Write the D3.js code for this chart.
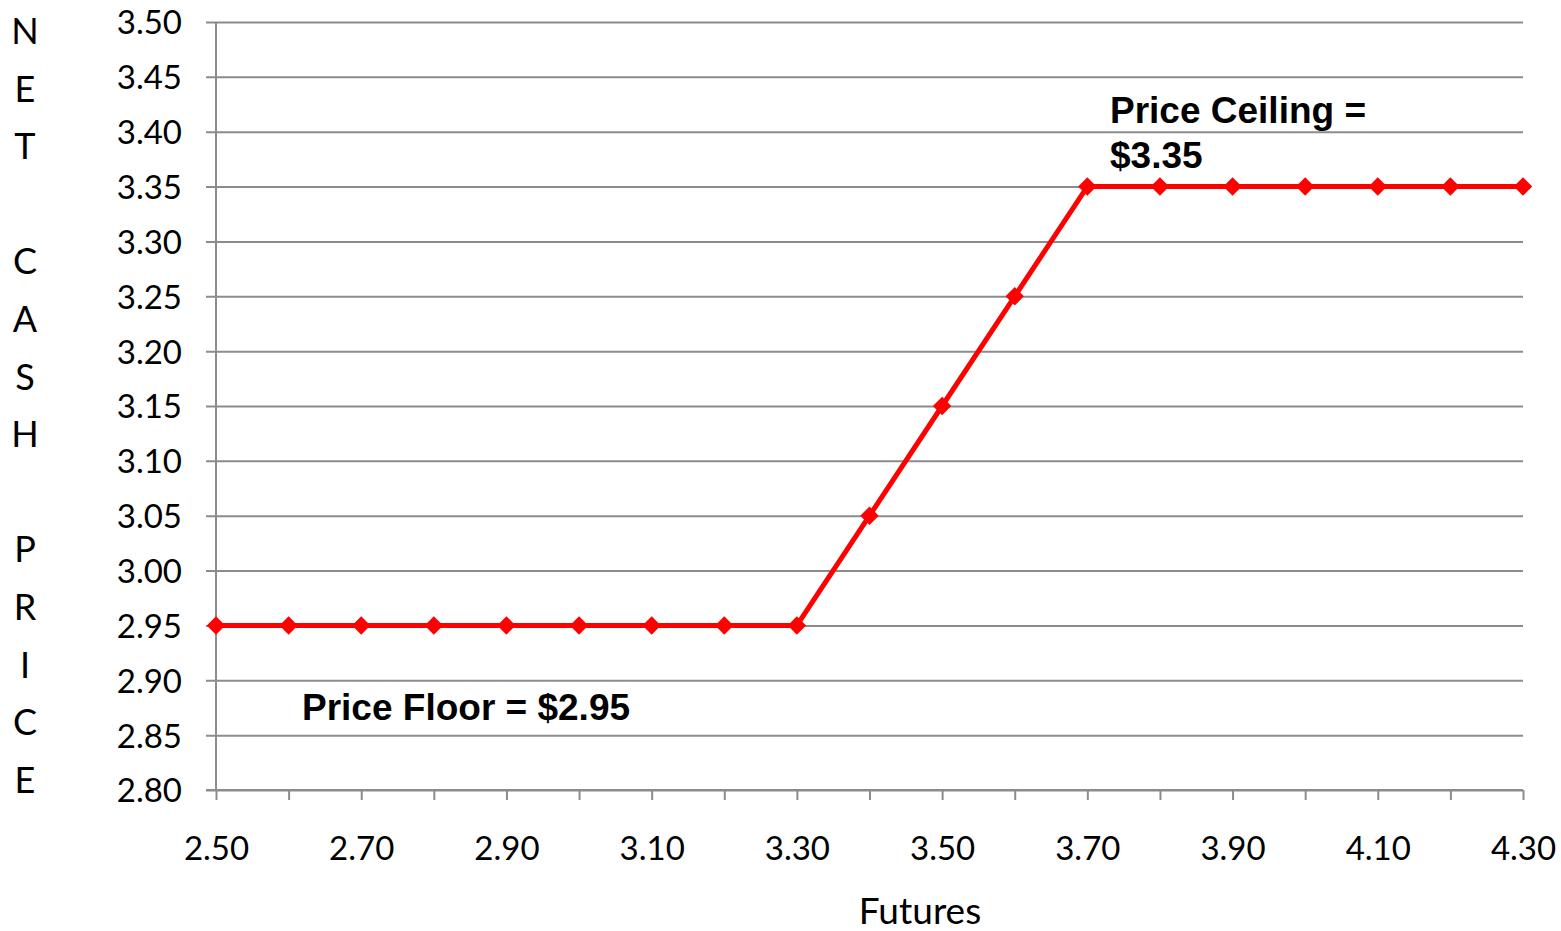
<!DOCTYPE html>
<html>
<head>
<meta charset="utf-8">
<script src="https://cdn.jsdelivr.net/npm/d3@7"></script>
<style>
  html, body { margin: 0; padding: 0; background: #fff; }
  svg { display: block; }
</style>
</head>
<body>
<script>
// futures prices (categories) and the net cash price for each
const futures = ["2.50","2.60","2.70","2.80","2.90","3.00","3.10","3.20","3.30",
                 "3.40","3.50","3.60","3.70","3.80","3.90","4.00","4.10","4.20","4.30"];
const netCash = [2.95,2.95,2.95,2.95,2.95,2.95,2.95,2.95,2.95,
                 3.05,3.15,3.25,3.35,3.35,3.35,3.35,3.35,3.35,3.35];
const yTicks = [2.80,2.85,2.90,2.95,3.00,3.05,3.10,3.15,3.20,3.25,3.30,3.35,3.40,3.45,3.50];
const yTitle = ["N","E","T","","C","A","S","H","","P","R","I","C","E"];

const width = 1561;
const height = 931;
const svg = d3.select("body")
  .append("svg")
  .attr("width", width)
  .attr("height", height);

const margin = {top: 22, right: 38, bottom: 141, left: 216};
const gridColor = "#8c8c8c";
const tickFont = "Lato, 'Open Sans', sans-serif";

const xScale = d3.scalePoint()
  .domain(futures)
  .range([margin.left, width - margin.right]);

const yScale = d3.scaleLinear()
  .domain([2.80, 3.50])
  .range([height - margin.bottom, margin.top]);

// horizontal gridlines + y axis
const yAxis = d3.axisLeft(yScale)
  .tickValues(yTicks)
  .tickFormat(d3.format(".2f"))
  .tickSize(-(width - margin.right - margin.left) - 10)
  .tickSizeOuter(0);

const gy = svg.append("g")
  .attr("transform", `translate(${margin.left},0)`)
  .call(yAxis);
gy.select(".domain").remove();
gy.selectAll(".tick line")
  .attr("x1", -10)
  .attr("x2", width - margin.right - margin.left)
  .attr("stroke", gridColor)
  .attr("stroke-width", 2);
gy.selectAll(".tick text")
  .attr("x", -34)
  .attr("dy", "0.36em")
  .attr("font-family", tickFont)
  .attr("font-size", 33)
  .attr("fill", "#000");

// vertical axis line
svg.append("line")
  .attr("x1", margin.left).attr("x2", margin.left)
  .attr("y1", margin.top).attr("y2", height - margin.bottom)
  .attr("stroke", gridColor)
  .attr("stroke-width", 2);

// x axis
const xAxis = d3.axisBottom(xScale)
  .tickSize(10)
  .tickSizeOuter(0)
  .tickFormat((d, i) => i % 2 === 0 ? d : "");

const gx = svg.append("g")
  .attr("transform", `translate(0,${height - margin.bottom})`)
  .call(xAxis);
gx.select(".domain")
  .attr("stroke", gridColor)
  .attr("stroke-width", 2)
  .attr("d", `M${margin.left - 10},0H${width - margin.right}`);
gx.selectAll(".tick line")
  .attr("stroke", gridColor)
  .attr("stroke-width", 2);
gx.selectAll(".tick text")
  .attr("y", 47)
  .attr("dy", "0.71em")
  .attr("font-family", tickFont)
  .attr("font-size", 33)
  .attr("fill", "#000");

// x title
svg.append("text")
  .attr("x", 920)
  .attr("y", 924)
  .attr("text-anchor", "middle")
  .attr("font-family", tickFont)
  .attr("font-size", 37)
  .text("Futures");

// stacked y title, one letter per line
svg.append("g")
  .selectAll("text")
  .data(yTitle)
  .join("text")
  .attr("x", 25)
  .attr("y", (d, i) => 44 + i * 57.6)
  .attr("text-anchor", "middle")
  .attr("font-family", tickFont)
  .attr("font-size", 36)
  .text(d => d);

// the red line
const line = d3.line()
  .x((d, i) => xScale(futures[i]))
  .y(d => yScale(d));

svg.append("path")
  .datum(netCash)
  .attr("fill", "none")
  .attr("stroke", "#ff0000")
  .attr("stroke-width", 5)
  .attr("stroke-linejoin", "round")
  .attr("d", line);

// diamond markers
svg.append("g")
  .selectAll("path")
  .data(netCash)
  .join("path")
  .attr("d", d3.symbol(d3.symbolSquare, 170))
  .attr("transform", (d, i) => `translate(${xScale(futures[i])},${yScale(d)}) rotate(45)`)
  .attr("fill", "#ff0000");

// annotations
const noteFont = "'Liberation Sans', Arial, sans-serif";
svg.append("text")
  .attr("x", 302)
  .attr("y", 720)
  .attr("font-family", noteFont)
  .attr("font-weight", "bold")
  .attr("font-size", 37)
  .text("Price Floor = $2.95");

const ceil = svg.append("text")
  .attr("font-family", noteFont)
  .attr("font-weight", "bold")
  .attr("font-size", 37);
ceil.append("tspan").attr("x", 1110).attr("y", 123).text("Price Ceiling =");
ceil.append("tspan").attr("x", 1110).attr("y", 168).text("$3.35");
</script>
</body>
</html>
